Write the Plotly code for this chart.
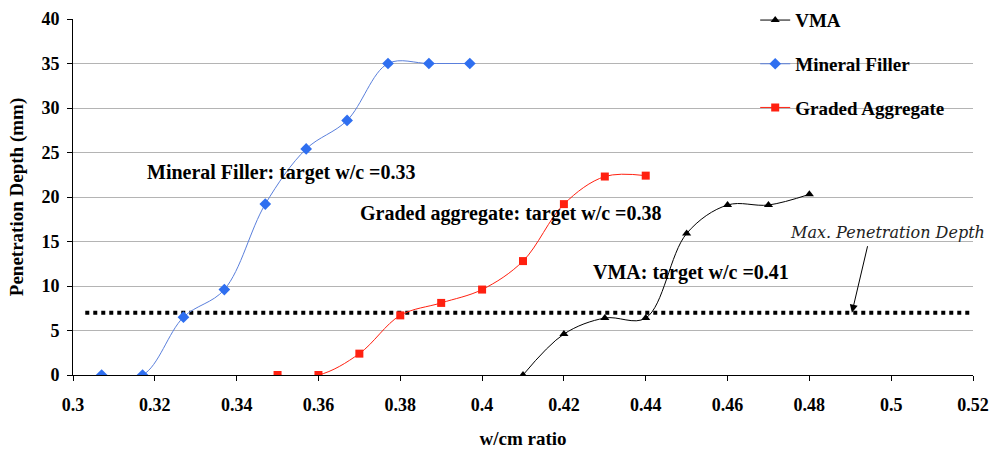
import plotly.graph_objects as go

# Data
mf_x = [0.307, 0.317, 0.327, 0.337, 0.347, 0.357, 0.367, 0.377, 0.387, 0.397]
mf_y = [0, 0, 6.5, 9.6, 19.2, 25.4, 28.6, 35, 35, 35]
ga_x = [0.35, 0.36, 0.37, 0.38, 0.39, 0.40, 0.41, 0.42, 0.43, 0.44]
ga_y = [0, 0, 2.4, 6.7, 8.1, 9.6, 12.8, 19.2, 22.3, 22.4]
vma_x = [0.41, 0.42, 0.43, 0.44, 0.45, 0.46, 0.47, 0.48]
vma_y = [0, 4.6, 6.4, 6.4, 15.9, 19.1, 19.1, 20.3]
max_x = [0.303, 0.5195]
max_y = [7, 7]
x_ticks = [0.3, 0.32, 0.34, 0.36, 0.38, 0.4, 0.42, 0.44, 0.46, 0.48, 0.5, 0.52]
x_tick_labels = ["0.3", "0.32", "0.34", "0.36", "0.38", "0.4", "0.42", "0.44", "0.46", "0.48", "0.5", "0.52"]
y_ticks = [0, 5, 10, 15, 20, 25, 30, 35, 40]

FONT = "Liberation Serif"

fig = go.Figure()

fig.add_trace(go.Scatter(
    x=max_x, y=max_y, mode="lines", showlegend=False, hoverinfo="skip",
    line=dict(color="black", width=4, dash="4px,4px"),
))
fig.add_trace(go.Scatter(
    x=vma_x, y=vma_y, name="VMA", mode="lines+markers", legendgroup="a",
    line=dict(color="black", width=1, shape="spline", smoothing=1),
    marker=dict(symbol="triangle-up", size=8, color="black"),
))
fig.add_trace(go.Scatter(
    x=mf_x, y=mf_y, name="Mineral Filler", mode="lines+markers", legendgroup="b",
    line=dict(color="#5a7fdc", width=1, shape="spline", smoothing=1),
    marker=dict(symbol="diamond", size=9, color="#2f6ff0"),
))
fig.add_trace(go.Scatter(
    x=ga_x, y=ga_y, name="Graded Aggregate", mode="lines+markers", legendgroup="c",
    line=dict(color="#ff2010", width=1, shape="spline", smoothing=1),
    marker=dict(symbol="square", size=8, color="#ff2010"),
))

ann_font = dict(family=FONT, size=20, color="black", weight="bold")
annotations = [
    dict(x=0.351, y=22.8, text="Mineral Filler: target w/c =0.33", showarrow=False, font=ann_font),
    dict(x=0.407, y=18.2, text="Graded aggregate: target w/c =0.38", showarrow=False, font=ann_font),
    dict(x=0.451, y=11.5, text="VMA: target w/c =0.41", showarrow=False, font=ann_font),
    dict(x=0.499, y=16.0, text="<i>Max. Penetration Depth</i>", showarrow=False,
         font=dict(family="DejaVu Serif", size=16, color="#222222")),
    dict(x=0.4904, y=7.0, text="", showarrow=True, arrowhead=2, arrowsize=1.6, arrowwidth=1,
         arrowcolor="black", ax=16, ay=-68),
]

shapes = [
    dict(type="rect", xref="paper", yref="paper", x0=(729 - 73) / 900, x1=1.03,
         y0=(375 - 125) / 356, y1=1.06, fillcolor="white", line=dict(width=0), layer="between"),
]

fig.update_layout(
    width=993, height=452,
    paper_bgcolor="white", plot_bgcolor="white",
    margin=dict(l=73, r=20, t=19, b=77, autoexpand=False),
    font=dict(family=FONT, size=18, color="black"),
    showlegend=True,
    legend=dict(
        x=0.758, y=1.05, xanchor="left", yanchor="top",
        bgcolor="rgba(0,0,0,0)", traceorder="grouped", tracegroupgap=16,
        font=dict(family=FONT, size=19, color="black", weight="bold"),
        itemwidth=30,
    ),
    annotations=annotations,
    shapes=shapes,
    xaxis=dict(
        range=[0.3, 0.52], tickvals=x_ticks, ticktext=x_tick_labels,
        showgrid=False, zeroline=False, showline=True, linecolor="black", linewidth=1,
        ticks="outside", ticklen=5, tickcolor="black", ticklabelstandoff=8,
        tickfont=dict(family=FONT, size=18, color="black", weight="bold"),
        title=dict(text="w/cm ratio", font=dict(family=FONT, size=19, weight="bold"), standoff=18),
    ),
    yaxis=dict(
        range=[0, 40], tickvals=y_ticks,
        showgrid=True, gridcolor="#b4b4b4", gridwidth=1,
        zeroline=False, showline=True, linecolor="black", linewidth=1,
        ticks="outside", ticklen=5, tickcolor="black", ticklabelstandoff=4,
        tickfont=dict(family=FONT, size=18, color="black", weight="bold"),
        title=dict(text="Penetration Depth (mm)", font=dict(family=FONT, size=19, weight="bold"), standoff=12),
    ),
)

fig.write_html("out.html", config={"displayModeBar": False},
               post_script="document.body.style.margin='0';")
